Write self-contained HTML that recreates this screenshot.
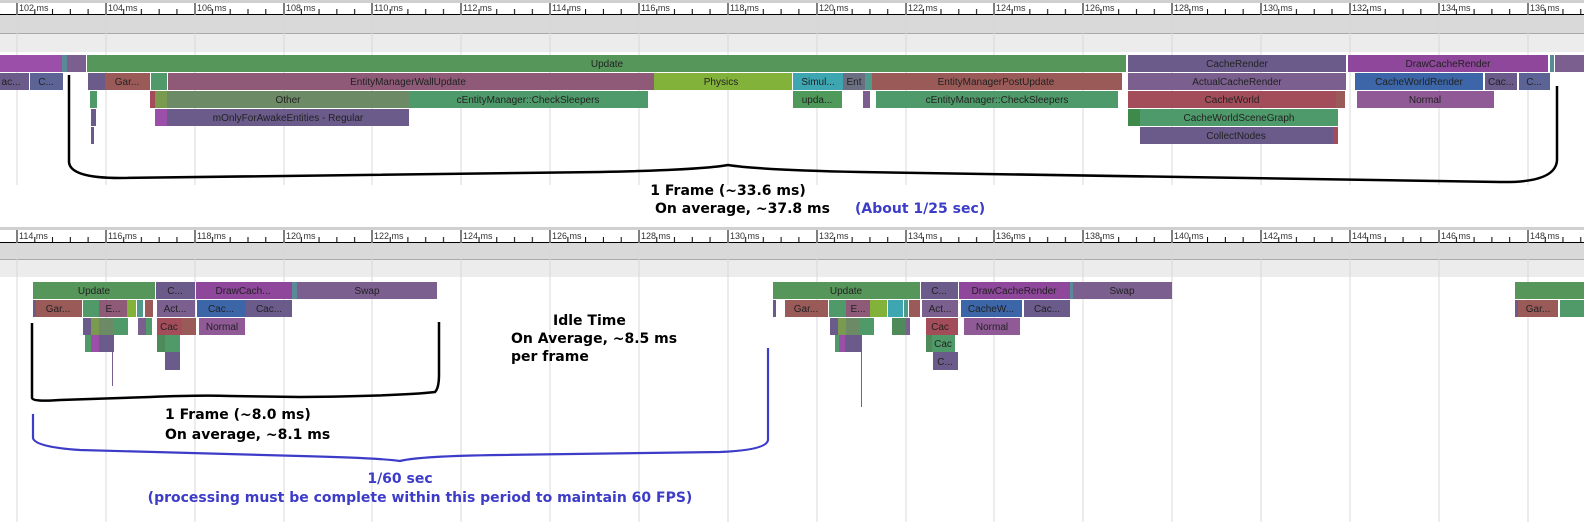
<!DOCTYPE html>
<html><head><meta charset="utf-8"><style>
body{margin:0;background:#fff;width:1584px;height:522px;overflow:hidden}
svg{display:block}
.t{font-family:"Liberation Sans",sans-serif;font-size:9px;fill:#333}
.b{font-family:"Liberation Sans",sans-serif;font-size:10px;fill:#222;text-anchor:middle}
.a{font-family:"DejaVu Sans",sans-serif;font-weight:bold;font-size:14px;fill:#000}
.u{font-family:"DejaVu Sans",sans-serif;font-weight:bold;font-size:14px;fill:#3c3cc8}
</style></head><body>
<svg width="1584" height="522" xmlns="http://www.w3.org/2000/svg">
<defs>
<pattern id="mt" x="17" y="0" width="88.85" height="20" patternUnits="userSpaceOnUse">
<line x1="17.8" y1="9" x2="17.8" y2="14" stroke="#000"/><line x1="35.5" y1="9" x2="35.5" y2="14" stroke="#000"/><line x1="53.3" y1="9" x2="53.3" y2="14" stroke="#000"/><line x1="71.1" y1="9" x2="71.1" y2="14" stroke="#000"/>
</pattern>
<pattern id="mb" x="17" y="228" width="88.85" height="20" patternUnits="userSpaceOnUse">
<line x1="17.8" y1="9" x2="17.8" y2="14" stroke="#000"/><line x1="35.5" y1="9" x2="35.5" y2="14" stroke="#000"/><line x1="53.3" y1="9" x2="53.3" y2="14" stroke="#000"/><line x1="71.1" y1="9" x2="71.1" y2="14" stroke="#000"/>
</pattern>
</defs>
<!-- top panel bands -->
<rect x="0" y="0" width="1584" height="3" fill="#d0d0d0"/>
<rect x="0" y="0" width="1584" height="14" fill="url(#mt)"/>
<rect x="0" y="15" width="1584" height="18" fill="#d9d9d9"/>
<rect x="0" y="33" width="1584" height="1" fill="#aaa"/>
<rect x="0" y="34" width="1584" height="18" fill="#ececec"/>
<line x1="0" y1="14.5" x2="1584" y2="14.5" stroke="#000"/>
<g stroke="#d8d8d8">
<line x1="17" y1="14" x2="17" y2="185"/><line x1="106" y1="14" x2="106" y2="185"/><line x1="195" y1="14" x2="195" y2="185"/><line x1="284" y1="14" x2="284" y2="185"/><line x1="372" y1="14" x2="372" y2="185"/><line x1="461" y1="14" x2="461" y2="185"/><line x1="550" y1="14" x2="550" y2="185"/><line x1="639" y1="14" x2="639" y2="185"/><line x1="728" y1="14" x2="728" y2="185"/><line x1="817" y1="14" x2="817" y2="185"/><line x1="906" y1="14" x2="906" y2="185"/><line x1="994" y1="14" x2="994" y2="185"/><line x1="1083" y1="14" x2="1083" y2="185"/><line x1="1172" y1="14" x2="1172" y2="185"/><line x1="1261" y1="14" x2="1261" y2="185"/><line x1="1350" y1="14" x2="1350" y2="185"/><line x1="1439" y1="14" x2="1439" y2="185"/><line x1="1528" y1="14" x2="1528" y2="185"/>
</g>
<g stroke="#000">
<line x1="17" y1="3" x2="17" y2="14"/><line x1="106" y1="3" x2="106" y2="14"/><line x1="195" y1="3" x2="195" y2="14"/><line x1="284" y1="3" x2="284" y2="14"/><line x1="372" y1="3" x2="372" y2="14"/><line x1="461" y1="3" x2="461" y2="14"/><line x1="550" y1="3" x2="550" y2="14"/><line x1="639" y1="3" x2="639" y2="14"/><line x1="728" y1="3" x2="728" y2="14"/><line x1="817" y1="3" x2="817" y2="14"/><line x1="906" y1="3" x2="906" y2="14"/><line x1="994" y1="3" x2="994" y2="14"/><line x1="1083" y1="3" x2="1083" y2="14"/><line x1="1172" y1="3" x2="1172" y2="14"/><line x1="1261" y1="3" x2="1261" y2="14"/><line x1="1350" y1="3" x2="1350" y2="14"/><line x1="1439" y1="3" x2="1439" y2="14"/><line x1="1528" y1="3" x2="1528" y2="14"/>
</g>
<g class="t">
<text x="19" y="11">102 ms</text><text x="108" y="11">104 ms</text><text x="197" y="11">106 ms</text><text x="286" y="11">108 ms</text><text x="374" y="11">110 ms</text><text x="463" y="11">112 ms</text><text x="552" y="11">114 ms</text><text x="641" y="11">116 ms</text><text x="730" y="11">118 ms</text><text x="819" y="11">120 ms</text><text x="908" y="11">122 ms</text><text x="996" y="11">124 ms</text><text x="1085" y="11">126 ms</text><text x="1174" y="11">128 ms</text><text x="1263" y="11">130 ms</text><text x="1352" y="11">132 ms</text><text x="1441" y="11">134 ms</text><text x="1530" y="11">136 ms</text>
</g>
<!-- top bars -->
<g>
<rect x="0" y="55" width="62" height="17" fill="#9b4fa8"/><rect x="62" y="55" width="5" height="17" fill="#5a8a96"/><rect x="67" y="55" width="19" height="17" fill="#7b5f8f"/>
<rect x="87" y="55" width="1039" height="17" fill="#56965a"/><rect x="1128" y="55" width="218" height="17" fill="#6a5b8a"/><rect x="1348" y="55" width="200" height="17" fill="#8e479b"/><rect x="1550" y="55" width="4" height="17" fill="#5a8a96"/><rect x="1555" y="55" width="29" height="17" fill="#7b5f8f"/>
<rect x="0" y="73" width="29" height="17" fill="#6a5b8a"/><rect x="30" y="73" width="33" height="17" fill="#5c6496"/><rect x="88" y="73" width="17" height="17" fill="#6a5b8a"/><rect x="105" y="73" width="45" height="17" fill="#9a5a58"/><rect x="151" y="73" width="16" height="17" fill="#4f9a68"/><rect x="168" y="73" width="486" height="17" fill="#8f5a78"/><rect x="654" y="73" width="138" height="17" fill="#83b23a"/><rect x="793" y="73" width="50" height="17" fill="#3da6b0"/><rect x="843" y="73" width="22" height="17" fill="#6a6f82"/><rect x="865" y="73" width="7" height="17" fill="#4f9a8a"/><rect x="872" y="73" width="250" height="17" fill="#9a5a58"/><rect x="1128" y="73" width="218" height="17" fill="#7b5f8f"/><rect x="1355" y="73" width="128" height="17" fill="#3d66a8"/><rect x="1485" y="73" width="32" height="17" fill="#6a5b8a"/><rect x="1519" y="73" width="31" height="17" fill="#5c6496"/>
<rect x="90" y="91" width="7" height="17" fill="#4f9a68"/><rect x="150" y="91" width="5" height="17" fill="#a44d5a"/><rect x="155" y="91" width="12" height="17" fill="#7a9a50"/><rect x="167" y="91" width="242" height="17" fill="#6d8a66"/><rect x="409" y="91" width="239" height="17" fill="#4f9a6a"/><rect x="793" y="91" width="49" height="17" fill="#4f9a5a"/><rect x="863" y="91" width="7" height="17" fill="#7b5f8f"/><rect x="876" y="91" width="242" height="17" fill="#4f9a6a"/><rect x="1128" y="91" width="208" height="17" fill="#a44d5a"/><rect x="1336" y="91" width="9" height="17" fill="#9a5a58"/><rect x="1357" y="91" width="137" height="17" fill="#8f5a96"/>
<rect x="91" y="109" width="5" height="17" fill="#6a5b8a"/><rect x="155" y="109" width="12" height="17" fill="#9b4fa8"/><rect x="167" y="109" width="242" height="17" fill="#6a5b8a"/><rect x="1128" y="109" width="12" height="17" fill="#3f8a4a"/><rect x="1140" y="109" width="198" height="17" fill="#4f9a6a"/>
<rect x="91" y="127" width="3" height="17" fill="#6a5b8a"/><rect x="1140" y="127" width="193" height="17" fill="#6a5b8a"/><rect x="1333" y="127" width="5" height="17" fill="#a44d5a"/>
</g>
<g class="b">
<text x="607" y="67">Update</text><text x="1237" y="67">CacheRender</text><text x="1448" y="67">DrawCacheRender</text>
<text x="11" y="85">ac...</text><text x="46" y="85">C...</text><text x="127" y="85">Gar...</text><text x="408" y="85">EntityManagerWallUpdate</text><text x="721" y="85">Physics</text><text x="818" y="85">Simul...</text><text x="854" y="85">Ent</text><text x="996" y="85">EntityManagerPostUpdate</text><text x="1237" y="85">ActualCacheRender</text><text x="1419" y="85">CacheWorldRender</text><text x="1501" y="85">Cac...</text><text x="1534" y="85">C...</text>
<text x="288" y="103">Other</text><text x="528" y="103">cEntityManager::CheckSleepers</text><text x="817" y="103">upda...</text><text x="997" y="103">cEntityManager::CheckSleepers</text><text x="1232" y="103">CacheWorld</text><text x="1425" y="103">Normal</text>
<text x="288" y="121">mOnlyForAwakeEntities - Regular</text><text x="1239" y="121">CacheWorldSceneGraph</text>
<text x="1236" y="139">CollectNodes</text>
</g>
<path d="M69,75 L69,162 Q70,178 120,178 L600,172 Q700,170 728,165 Q760,170 860,172 L1500,182 Q1556,183 1557,160 L1557,86" fill="none" stroke="#000" stroke-width="2.5"/>
<text class="a" x="728" y="195" text-anchor="middle">1 Frame (~33.6 ms)</text>
<text class="a" x="655" y="213">On average, ~37.8 ms</text>
<text class="u" x="855" y="213">(About 1/25 sec)</text>

<!-- bottom panel -->
<rect x="0" y="227" width="1584" height="3" fill="#d0d0d0"/>
<rect x="0" y="228" width="1584" height="14" fill="url(#mb)"/>
<rect x="0" y="243" width="1584" height="16" fill="#d9d9d9"/>
<rect x="0" y="259" width="1584" height="1" fill="#aaa"/>
<rect x="0" y="260" width="1584" height="17" fill="#ececec"/>
<line x1="0" y1="242.5" x2="1584" y2="242.5" stroke="#000"/>
<g stroke="#d8d8d8">
<line x1="17" y1="242" x2="17" y2="522"/><line x1="106" y1="242" x2="106" y2="522"/><line x1="195" y1="242" x2="195" y2="522"/><line x1="284" y1="242" x2="284" y2="522"/><line x1="372" y1="242" x2="372" y2="522"/><line x1="461" y1="242" x2="461" y2="522"/><line x1="550" y1="242" x2="550" y2="522"/><line x1="639" y1="242" x2="639" y2="522"/><line x1="728" y1="242" x2="728" y2="522"/><line x1="817" y1="242" x2="817" y2="522"/><line x1="906" y1="242" x2="906" y2="522"/><line x1="994" y1="242" x2="994" y2="522"/><line x1="1083" y1="242" x2="1083" y2="522"/><line x1="1172" y1="242" x2="1172" y2="522"/><line x1="1261" y1="242" x2="1261" y2="522"/><line x1="1350" y1="242" x2="1350" y2="522"/><line x1="1439" y1="242" x2="1439" y2="522"/><line x1="1528" y1="242" x2="1528" y2="522"/>
</g>
<g stroke="#000">
<line x1="17" y1="230" x2="17" y2="242"/><line x1="106" y1="230" x2="106" y2="242"/><line x1="195" y1="230" x2="195" y2="242"/><line x1="284" y1="230" x2="284" y2="242"/><line x1="372" y1="230" x2="372" y2="242"/><line x1="461" y1="230" x2="461" y2="242"/><line x1="550" y1="230" x2="550" y2="242"/><line x1="639" y1="230" x2="639" y2="242"/><line x1="728" y1="230" x2="728" y2="242"/><line x1="817" y1="230" x2="817" y2="242"/><line x1="906" y1="230" x2="906" y2="242"/><line x1="994" y1="230" x2="994" y2="242"/><line x1="1083" y1="230" x2="1083" y2="242"/><line x1="1172" y1="230" x2="1172" y2="242"/><line x1="1261" y1="230" x2="1261" y2="242"/><line x1="1350" y1="230" x2="1350" y2="242"/><line x1="1439" y1="230" x2="1439" y2="242"/><line x1="1528" y1="230" x2="1528" y2="242"/>
</g>
<g class="t">
<text x="19" y="239">114 ms</text><text x="108" y="239">116 ms</text><text x="197" y="239">118 ms</text><text x="286" y="239">120 ms</text><text x="374" y="239">122 ms</text><text x="463" y="239">124 ms</text><text x="552" y="239">126 ms</text><text x="641" y="239">128 ms</text><text x="730" y="239">130 ms</text><text x="819" y="239">132 ms</text><text x="908" y="239">134 ms</text><text x="996" y="239">136 ms</text><text x="1085" y="239">138 ms</text><text x="1174" y="239">140 ms</text><text x="1263" y="239">142 ms</text><text x="1352" y="239">144 ms</text><text x="1441" y="239">146 ms</text><text x="1530" y="239">148 ms</text>
</g>
<g>
<rect x="33" y="282" width="122" height="17" fill="#56965a"/><rect x="156" y="282" width="39" height="17" fill="#6a5b8a"/><rect x="196" y="282" width="96" height="17" fill="#8e479b"/><rect x="292" y="282" width="5" height="17" fill="#5a8a96"/><rect x="297" y="282" width="140" height="17" fill="#7b5f8f"/>
<rect x="773" y="282" width="147" height="17" fill="#56965a"/><rect x="921" y="282" width="37" height="17" fill="#6a5b8a"/><rect x="959" y="282" width="111" height="17" fill="#8e479b"/><rect x="1070" y="282" width="3" height="17" fill="#5a8a96"/><rect x="1073" y="282" width="99" height="17" fill="#7b5f8f"/>
<rect x="1515" y="282" width="69" height="17" fill="#56965a"/>
<rect x="33" y="300" width="3" height="17" fill="#6a5b8a"/><rect x="36" y="300" width="46" height="17" fill="#9a5a58"/><rect x="83" y="300" width="16" height="17" fill="#4f9a68"/><rect x="99" y="300" width="28" height="17" fill="#8f5a78"/><rect x="127" y="300" width="9" height="17" fill="#83b23a"/><rect x="137" y="300" width="6" height="17" fill="#4f9a8a"/><rect x="145" y="300" width="8" height="17" fill="#9a5a58"/><rect x="157" y="300" width="38" height="17" fill="#7b5f8f"/><rect x="197" y="300" width="49" height="17" fill="#3d66a8"/><rect x="246" y="300" width="46" height="17" fill="#6a5b8a"/>
<rect x="773" y="300" width="3" height="17" fill="#6a5b8a"/><rect x="785" y="300" width="43" height="17" fill="#9a5a58"/><rect x="829" y="300" width="17" height="17" fill="#4f9a68"/><rect x="846" y="300" width="24" height="17" fill="#8f5a78"/><rect x="870" y="300" width="17" height="17" fill="#83b23a"/><rect x="888" y="300" width="15" height="17" fill="#3da6b0"/><rect x="904" y="300" width="4" height="17" fill="#4f9a8a"/><rect x="909" y="300" width="11" height="17" fill="#9a5a58"/><rect x="922" y="300" width="36" height="17" fill="#7b5f8f"/><rect x="961" y="300" width="61" height="17" fill="#3d66a8"/><rect x="1024" y="300" width="46" height="17" fill="#6a5b8a"/>
<rect x="1515" y="300" width="3" height="17" fill="#6a5b8a"/><rect x="1518" y="300" width="40" height="17" fill="#9a5a58"/><rect x="1560" y="300" width="24" height="17" fill="#4f9a68"/>
<rect x="83" y="318" width="8" height="17" fill="#6a5b8a"/><rect x="91" y="318" width="8" height="17" fill="#7a9a50"/><rect x="99" y="318" width="14" height="17" fill="#6d8a66"/><rect x="113" y="318" width="15" height="17" fill="#4f9a68"/><rect x="138" y="318" width="8" height="17" fill="#7b5f8f"/><rect x="146" y="318" width="6" height="17" fill="#4f9a68"/><rect x="157" y="318" width="25" height="17" fill="#a44d5a"/><rect x="182" y="318" width="14" height="17" fill="#9a5a58"/><rect x="199" y="318" width="46" height="17" fill="#8f5a96"/>
<rect x="830" y="318" width="8" height="17" fill="#6a5b8a"/><rect x="838" y="318" width="8" height="17" fill="#7a9a50"/><rect x="846" y="318" width="14" height="17" fill="#6d8a66"/><rect x="860" y="318" width="14" height="17" fill="#4f9a68"/><rect x="892" y="318" width="14" height="17" fill="#4f8a5a"/><rect x="906" y="318" width="4" height="17" fill="#7b5f8f"/><rect x="926" y="318" width="32" height="17" fill="#a44d5a"/><rect x="964" y="318" width="56" height="17" fill="#8f5a96"/>
<rect x="85" y="335" width="6" height="17" fill="#4f9a68"/><rect x="91" y="335" width="8" height="17" fill="#9b4fa8"/><rect x="99" y="335" width="15" height="17" fill="#6a5b8a"/><rect x="157" y="335" width="8" height="17" fill="#4f8a5a"/><rect x="165" y="335" width="15" height="17" fill="#4f9a68"/>
<rect x="835" y="335" width="4" height="17" fill="#4f9a68"/><rect x="839" y="335" width="6" height="17" fill="#9b4fa8"/><rect x="845" y="335" width="17" height="17" fill="#6a5b8a"/><rect x="926" y="335" width="6" height="17" fill="#4f8a5a"/><rect x="932" y="335" width="23" height="17" fill="#4f9a68"/>
<rect x="165" y="352" width="15" height="18" fill="#6a5b8a"/><rect x="933" y="352" width="25" height="18" fill="#6a5b8a"/>
<rect x="112" y="352" width="1" height="34" fill="#7b5f8f"/><rect x="861" y="352" width="1" height="55" fill="#7b5f8f"/>
</g>
<g class="b">
<text x="94" y="294">Update</text><text x="175" y="294">C...</text><text x="243" y="294">DrawCach...</text><text x="367" y="294">Swap</text>
<text x="846" y="294">Update</text><text x="939" y="294">C...</text><text x="1014" y="294">DrawCacheRender</text><text x="1122" y="294">Swap</text>
<text x="58" y="312">Gar...</text><text x="113" y="312">E...</text><text x="175" y="312">Act...</text><text x="221" y="312">Cac...</text><text x="269" y="312">Cac...</text>
<text x="806" y="312">Gar...</text><text x="858" y="312">E...</text><text x="940" y="312">Act...</text><text x="991" y="312">CacheW...</text><text x="1047" y="312">Cac...</text><text x="1538" y="312">Gar...</text>
<text x="169" y="330">Cac</text><text x="222" y="330">Normal</text><text x="940" y="330">Cac</text><text x="992" y="330">Normal</text>
<text x="943" y="347">Cac</text><text x="945" y="365">C...</text>
</g>
<path d="M32,323 L32,398 Q33,402 60,400 L150,397 Q200,395 230,396 L300,397 Q400,396 435,392 Q439,388 439,375 L439,322" fill="none" stroke="#000" stroke-width="2.5"/>
<text class="a" x="165" y="419">1 Frame (~8.0 ms)</text>
<text class="a" x="165" y="439">On average, ~8.1 ms</text>
<text class="a" x="553" y="325">Idle Time</text>
<text class="a" x="511" y="343">On Average, ~8.5 ms</text>
<text class="a" x="511" y="361">per frame</text>
<path d="M33,414 L33,438 Q35,447 80,450 L300,456 Q380,458 400,461 Q420,456 500,455 L720,452 Q767,450 768,440 L768,348" fill="none" stroke="#3c3cc8" stroke-width="2.2"/>
<text class="u" x="400" y="483" text-anchor="middle">1/60 sec</text>
<text class="u" x="420" y="502" text-anchor="middle">(processing must be complete within this period to maintain 60 FPS)</text>
</svg>
</body></html>
